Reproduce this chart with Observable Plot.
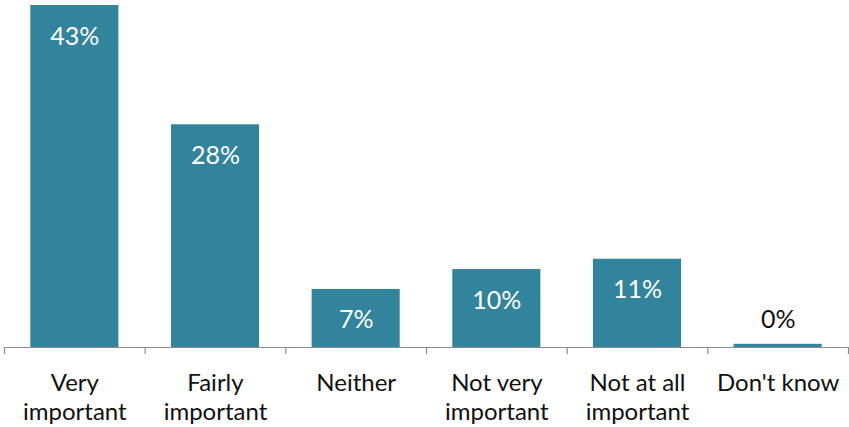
<!DOCTYPE html>
<html>
<head>
<meta charset="utf-8">
<script src="https://cdn.jsdelivr.net/npm/d3@7"></script>
<script src="https://cdn.jsdelivr.net/npm/@observablehq/plot@0.6"></script>
<style>
  html, body { margin: 0; padding: 0; background: #fff; }
  svg { display: block; }
</style>
</head>
<body>
<div id="chart"></div>
<script>
const categories = ["Very\nimportant", "Fairly\nimportant", "Neither", "Not very\nimportant", "Not at all\nimportant", "Don't know"];
const values = [43, 28, 7.3, 9.8, 11.1, 0.4];
const valueLabels = ["43%", "28%", "7%", "10%", "11%", "0%"];

const data = categories.map((c, i) => ({
  i, cat: c, value: values[i], label: valueLabels[i], inside: values[i] >= 5
}));
const edges = d3.range(categories.length + 1);

const chart = Plot.plot({
  width: 849,
  height: 427,
  marginLeft: 4,
  marginRight: 1,
  marginTop: 5,
  marginBottom: 80,
  style: { fontFamily: "Lato, 'Open Sans', sans-serif", background: "#fff" },
  x: { type: "linear", domain: [0, categories.length], axis: null },
  y: { type: "linear", domain: [0, 43], axis: null },
  marks: [
    Plot.rect(data, {
      x1: d => d.i, x2: d => d.i + 1, y1: d => 0, y2: "value",
      insetLeft: 26.3, insetRight: 26.3, fill: "#31849B"
    }),
    Plot.ruleY([0], { stroke: "#8c8c8c", strokeWidth: 1.2 }),
    Plot.ruleX(edges, { x: d => d, y1: d => 0, y2: d => 0, insetTop: 0, insetBottom: -7, stroke: "#8c8c8c", strokeWidth: 1.2 }),
    Plot.text(data.filter(d => d.inside), {
      x: d => d.i + 0.5, y: "value", text: "label", dy: 31,
      fill: "white", fontSize: 25
    }),
    Plot.text(data.filter(d => !d.inside), {
      x: d => d.i + 0.5, y: "value", text: "label", dy: -24,
      fill: "#111", fontSize: 25
    }),
    Plot.text(data, {
      x: d => d.i + 0.5, y: d => 0, text: "cat", lineAnchor: "top", dy: 24,
      lineHeight: 1.17, fill: "#111", fontSize: 24
    })
  ]
});

document.getElementById("chart").appendChild(chart);
</script>
</body>
</html>
